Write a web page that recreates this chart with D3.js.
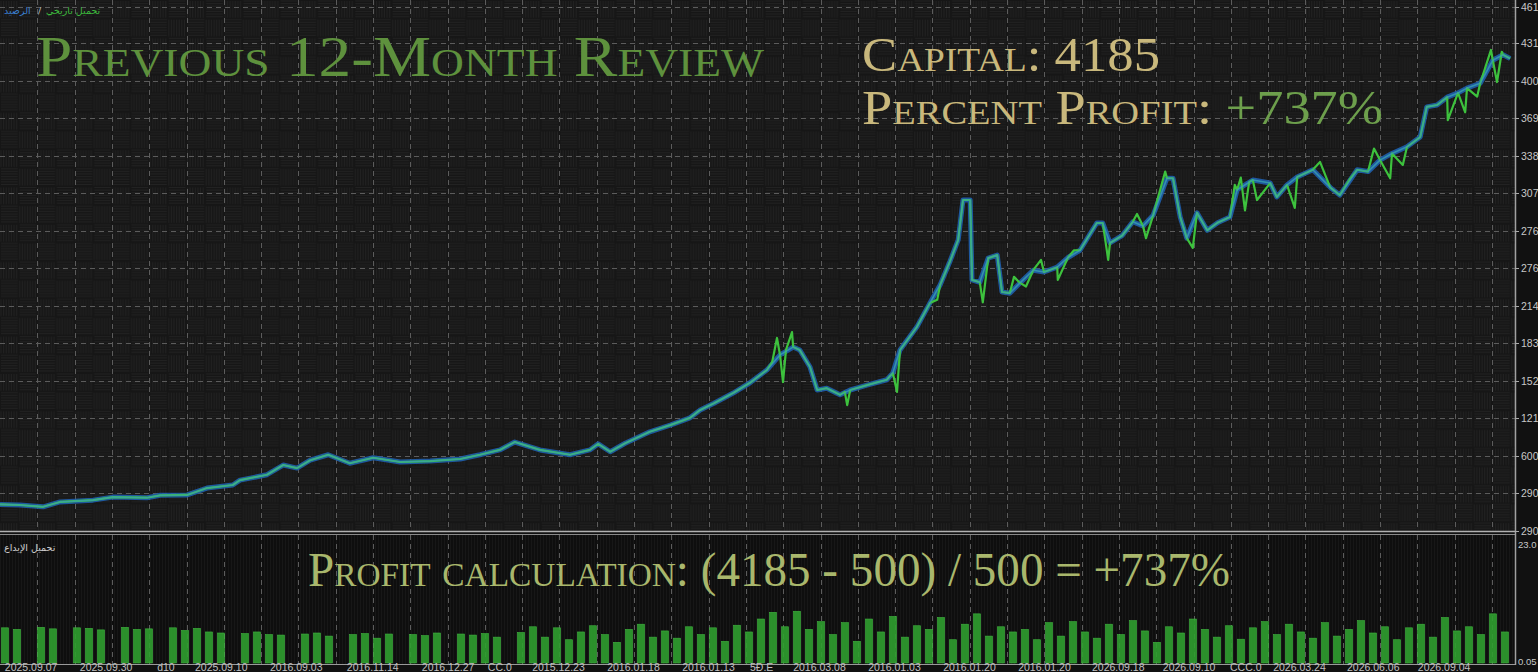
<!DOCTYPE html>
<html><head><meta charset="utf-8">
<script src="https://cdn.jsdelivr.net/npm/d3@7"></script>
<style>html,body{margin:0;padding:0;background:#131313;overflow:hidden}</style>
</head><body><svg id="c" width="1538" height="672"></svg>
<script>
// ---------- DATA ----------
const balanceDays = [0,3.3,7.2,10,15.5,18.8,24.5,26.7,31.2,34.5,38.8,40,44.5,47.2,49.5,51.7,54.7,58.3,62.2,66.7,71.7,76.7,80,83.3,85.8,90,95,98.3,99.7,101.7,104.2,108.3,111.7,115,116.7,119,122.2,125,127.8,130,132.2,133.3,135,136.2,137.8,140,141.7,144.5,147.8,148.8,150,152.8,155,156.7,158.3,159.7,160.5,161.7,162,163.3,164.7,166.2,167,168.3,170,172.2,174,176.2,178,180,182.8,183.8,185,187,188.8,190.5,192.2,194.5,195.5,196.7,197.8,199.5,201.2,203,205,206.2,208.8,211.7,212.8,214.5,216.2,218.8,221.7,223.3,226.2,228,230,232,234.5,236.7,237.8,239.5,241.2,243,244.5,246.7,248.8,250.5,251.7];
const balanceValues = [500,495,480,520,535,560,555,575,578,635,660,700,745,825,800,865,910,840,885,850,858,875,910,950,1015,950,910,950,1000,935,1005,1100,1155,1215,1280,1335,1420,1505,1610,1735,1800,1775,1635,1445,1460,1405,1445,1485,1530,1585,1775,1965,2165,2315,2505,2685,3015,3015,2355,2335,2535,2560,2255,2245,2330,2435,2420,2460,2540,2600,2825,2825,2660,2720,2835,2800,2890,3195,3195,2875,2700,2910,2765,2830,2875,3100,3180,3155,3040,3140,3205,3265,3120,3055,3265,3250,3345,3400,3455,3535,3785,3800,3865,3900,3940,3980,4170,4215,4185];
const equitySpikeDays = [128.7,129.5,130.5,131,132,140.8,141.2,149.5,156.2,163.8,169,171,173.5,176.3,179,184.7,189.5,191,194.2,198.8,205.8,206.8,207.5,208.2,209.5,215.8,220,225,229,231.7,233.8,241.3,244.2,246.2,248.5,249.5,250.3];
const equitySpikeValues = [1676,1875,1511,1776,1924,1430,1320,1430,2190,2170,2380,2300,2520,2355,2600,2520,2900,2700,3250,2620,3140,3200,2930,3165,3015,2950,3330,3190,3440,3195,3305,3675,3740,3870,4255,3990,4240];
const volumeValues = [6.8,6.5,0,6.9,6.6,0,6.8,6.7,6.4,0,6.9,6.5,6.6,0,6.8,6.3,6.7,
  6.0,5.8,0,5.7,6.0,5.5,5.4,0,5.6,5.8,5.2,0,5.5,5.7,4.8,5.6,0,5.5,5.3,5.8,0,5.6,5.4,5.7,5.0,0,5.9,
  7.0,5.0,6.8,4.5,6.0,7.2,5.5,4.0,6.5,7.5,5.0,6.2,4.8,7.0,5.5,6.8,4.2,7.3,6.0,
  8.5,9.8,7.0,10.0,6.5,8.0,
  5.5,7.8,4.2,8.5,6.0,9.0,5.0,7.2,6.5,8.8,4.5,7.5,9.5,5.2,7.0,6.0,
  6.5,4.5,7.8,5.2,8.0,6.0,4.8,7.5,5.5,8.2,6.2,4.0,7.0,5.8,8.5,6.5,5.0,7.2,4.6,6.8,8.0,5.5,7.5,6.0,4.8,7.8,5.2,6.5,8.2,5.8,7.0,4.5,6.8,7.5,5.0,8.8,6.2,7.0,5.5,9.5,6.0];
const yTickValues = [280,590,900,1210,1520,1830,2140,2450,2760,3070,3380,3690,4000,4310,4610];
const yTickLabels = ['290','290','600','121','152','183','214','276','276','307','338','369','400','431','461'];
const volTickValues = [23,0];
const volTickLabels = ['23.0','0.05'];
const xTickDays = [0.8,13.3,26.2,32.5,45,57.8,70.3,81.3,88.7,101.2,113.7,125,132.2,144.7,157.2,169.7,182,193.8,205,212.2,224.5,236.3];
const xTickLabels = ['2025.09.07','2025.09.30','d10','2025.09.10','2016.09.03','2016.11.14','2016.12.27','CC.0','2015.12.23','2016.01.18','2016.01.13','5Đ.E','2016.03.08','2016.01.03','2016.01.20','2016.01.20','2026.09.18','2026.09.10','CCC.0','2026.03.24','2026.06.06','2026.09.04'];

// ---------- LAYOUT ----------
const W = 1538, H = 672, plotR = 1515, mainTop = 0, mainBot = 531, volTop = 535, volBot = 664;
const svg = d3.select('#c');
const x = d3.scaleLinear().domain([0, 252]).range([0, 1512]);
const y = d3.scaleLinear().domain([280, 4610]).range([531, 7]);
const yv = d3.scaleLinear().domain([0, 23]).range([663, 544]);

// background pattern (parquet weave)
const defs = svg.append('defs');
const cell = 37.3, half = cell / 2;
const pat = defs.append('pattern').attr('id', 'weave').attr('patternUnits', 'userSpaceOnUse')
  .attr('width', cell * 2).attr('height', cell * 2);
pat.append('rect').attr('width', cell * 2).attr('height', cell * 2).attr('fill', '#161616');
for (let i = 0; i < 4; i++) for (let j = 0; j < 4; j++) {
  const bx = i * half, by = j * half, vert = (i + j) % 2 === 0;
  for (let k = 1; k < half; k += 2.6) {
    if (vert) pat.append('line').attr('x1', bx + k).attr('x2', bx + k).attr('y1', by + 1).attr('y2', by + half - 1);
    else pat.append('line').attr('y1', by + k).attr('y2', by + k).attr('x1', bx + 1).attr('x2', bx + half - 1);
  }
}
pat.selectAll('line').attr('stroke', '#222').attr('stroke-width', 1);
const pat2 = defs.append('pattern').attr('id', 'vstripe').attr('patternUnits', 'userSpaceOnUse').attr('width', 3).attr('height', 10);
pat2.append('rect').attr('width', 3).attr('height', 10).attr('fill', '#0e0e0e');
pat2.append('rect').attr('width', 1).attr('height', 10).attr('fill', '#171717');

svg.append('rect').attr('width', W).attr('height', H).attr('fill', '#111');
svg.append('rect').attr('x', 0).attr('y', mainTop).attr('width', plotR).attr('height', mainBot).attr('fill', 'url(#weave)');
svg.append('rect').attr('x', 0).attr('y', volTop).attr('width', plotR).attr('height', volBot - volTop).attr('fill', 'url(#vstripe)');

// grid
const grid = svg.append('g').attr('stroke', '#5c5c5c').attr('stroke-dasharray', '5,4').attr('stroke-width', 1);
yTickValues.forEach(v => grid.append('line').attr('x1', 0).attr('x2', plotR).attr('y1', Math.round(y(v)) + 0.5).attr('y2', Math.round(y(v)) + 0.5));
d3.range(cell, plotR, cell).forEach(gx => {
  grid.append('line').attr('x1', Math.round(gx) + 0.5).attr('x2', Math.round(gx) + 0.5).attr('y1', 0).attr('y2', mainBot);
  grid.append('line').attr('x1', Math.round(gx) + 0.5).attr('x2', Math.round(gx) + 0.5).attr('y1', volTop).attr('y2', volBot);
});

// volume bars
svg.append('g').selectAll('rect').data(volumeValues).join('rect')
  .attr('x', (d, i) => x(i * 2) + 1.5).attr('width', 7)
  .attr('y', d => yv(d)).attr('height', d => yv(0) - yv(d))
  .attr('fill', '#2f9f2f').attr('stroke', '#45c445').attr('stroke-width', 0.6).attr('opacity', 0.9);

// lines
const balance = balanceDays.map((d, i) => ({ d, v: balanceValues[i] }));
const equity = balance.concat(equitySpikeDays.map((d, i) => ({ d, v: equitySpikeValues[i] }))).sort((a, b) => a.d - b.d);
const line = d3.line().x(p => x(p.d)).y(p => y(p.v));
svg.append('path').datum(balance).attr('d', line).attr('fill', 'none').attr('stroke', '#1f5fae').attr('stroke-width', 5).attr('opacity', 0.9).attr('stroke-linejoin', 'round');
svg.append('path').datum(equity).attr('d', line).attr('fill', 'none').attr('stroke', '#3dc23d').attr('stroke-width', 2.2).attr('stroke-linejoin', 'round');
svg.append('path').datum(balance).attr('d', line).attr('fill', 'none').attr('stroke', '#3aa0b0').attr('stroke-width', 1.6).attr('opacity', 0.8).attr('stroke-linejoin', 'round');

// frame lines
svg.append('line').attr('x1', 0).attr('x2', plotR).attr('y1', 531.5).attr('y2', 531.5).attr('stroke', '#b0b0b0').attr('stroke-width', 1.5);
svg.append('line').attr('x1', 0).attr('x2', plotR).attr('y1', 534.5).attr('y2', 534.5).attr('stroke', '#8a8a8a').attr('stroke-width', 1.2);
svg.append('line').attr('x1', 0).attr('x2', plotR).attr('y1', 664.5).attr('y2', 664.5).attr('stroke', '#9a9a9a').attr('stroke-width', 1);
svg.append('line').attr('x1', plotR + 0.5).attr('x2', plotR + 0.5).attr('y1', 0).attr('y2', 665).attr('stroke', '#a0a0a0').attr('stroke-width', 1.5);

// right axis labels
const axT = svg.append('g').attr('font-family', 'Liberation Sans, Arial, sans-serif').attr('font-size', 10.5).attr('fill', '#c8c8c8');
yTickValues.forEach((v, i) => {
  const yy = Math.round(y(v)) + 0.5;
  svg.append('line').attr('x1', plotR).attr('x2', plotR + 4).attr('y1', yy).attr('y2', yy).attr('stroke', '#aaa');
  axT.append('text').attr('x', 1521).attr('y', yy).attr('dy', '0.35em').text(yTickLabels[i]);
});
volTickValues.forEach((v, i) => {
  axT.append('text').attr('x', 1518).attr('y', yv(v) + (i === 0 ? 1 : -1)).attr('dy', '0.35em').attr('font-size', 9.5).text(volTickLabels[i]);
});
// bottom axis labels
const bx = svg.append('g').attr('font-family', 'Liberation Sans, Arial, sans-serif').attr('font-size', 10.5).attr('fill', '#c0c0c0');
xTickDays.forEach((d, i) => bx.append('text').attr('x', x(d)).attr('y', 671).text(xTickLabels[i]));

// legend texts (Arabic), placed as separate pieces
const lgFont = 'DejaVu Sans, sans-serif';
svg.append('text').attr('x', 4).attr('y', 14).attr('font-family', lgFont).attr('font-size', 9.5).attr('fill', '#3a7fd0').text('الرصيد');
svg.append('text').attr('x', 38).attr('y', 14).attr('font-family', lgFont).attr('font-size', 9.5).attr('fill', '#bbb').text('/');
svg.append('text').attr('x', 46).attr('y', 14).attr('font-family', lgFont).attr('font-size', 9.5).attr('fill', '#3dbb3d').text('تحميل تاريخي');
svg.append('text').attr('x', 4).attr('y', 551).attr('font-family', lgFont).attr('font-size', 9.5).attr('fill', '#d0d0d0').text('تحميل الإيداع');

// titles
const serif = 'Liberation Serif, Times New Roman, serif';
function title(txt, xx, yy, size, len, fill) {
  return svg.append('text').attr('x', xx).attr('y', yy).attr('font-family', serif).attr('font-size', size)
    .attr('font-variant', 'small-caps').attr('fill', fill).attr('textLength', len).attr('lengthAdjust', 'spacingAndGlyphs').text(txt);
}
title('Previous 12-Month Review', 36, 76, 56, 728, '#5e913d');
title('Capital: 4185', 862, 71, 48, 298, '#c9b87c');
const pp = svg.append('text').attr('x', 862).attr('y', 124).attr('font-family', serif).attr('font-size', 48)
  .attr('font-variant', 'small-caps').attr('textLength', 521).attr('lengthAdjust', 'spacingAndGlyphs');
pp.append('tspan').attr('fill', '#c9b87c').text('Percent Profit: ');
pp.append('tspan').attr('fill', '#6d9f4c').text('+737%');
title('Profit calculation: (4185 - 500) / 500 = +737%', 308, 586, 48, 922, '#a9b76c');
</script></body></html>
